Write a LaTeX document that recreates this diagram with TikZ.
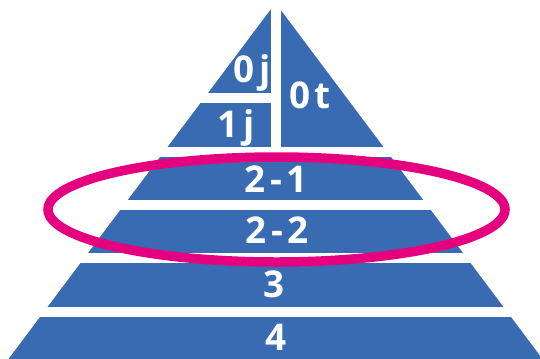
\documentclass[tikz,border=0pt]{standalone}
\usepackage{fontspec}
\setmainfont{Open Sans}
\newfontfamily\labelfont{Open Sans}[LetterSpace=12]
\definecolor{pyrblue}{HTML}{396BB2}
\definecolor{ringmag}{HTML}{E4007F}
\tikzset{
  band/.style={fill=pyrblue, draw=none},
  lbl/.style={text=white, anchor=base, inner sep=0pt, font=\labelfont\bfseries\fontsize{37}{37}\selectfont},
  ring/.style={draw=ringmag, line width=9.5bp}
}
\begin{document}
\begin{tikzpicture}[x=1bp,y=-1bp]
\useasboundingbox (0,0) rectangle (540,358);
\begin{scope}
  \clip (275.5,3) -- (7,361) -- (544,361) -- cycle;
  \fill[band] (0,0) rectangle (270.5,93);
  \fill[band] (0,103) rectangle (270.5,147);
  \fill[band] (280.5,0) rectangle (540,147);
  \fill[band] (0,157) rectangle (540,200);
  \fill[band] (0,210) rectangle (540,253);
  \fill[band] (0,263) rectangle (540,307);
  \fill[band] (0,317) rectangle (540,361);
\end{scope}
\node[lbl] (l0j) at (252,82) {0j};
\node[lbl] (l0t) at (310,108) {0t};
\node[lbl] (l1j) at (236,137) {1j};
\node[lbl] (l21) at (276,192) {2-1};
\node[lbl] (l22) at (277,243) {2-2};
\node[lbl] (l3) at (274,297) {3};
\node[lbl] (l4) at (276,350) {4};
\draw[ring] (276.5,209.5) ellipse [x radius=228.5, y radius=52.5];
\end{tikzpicture}
\end{document}
